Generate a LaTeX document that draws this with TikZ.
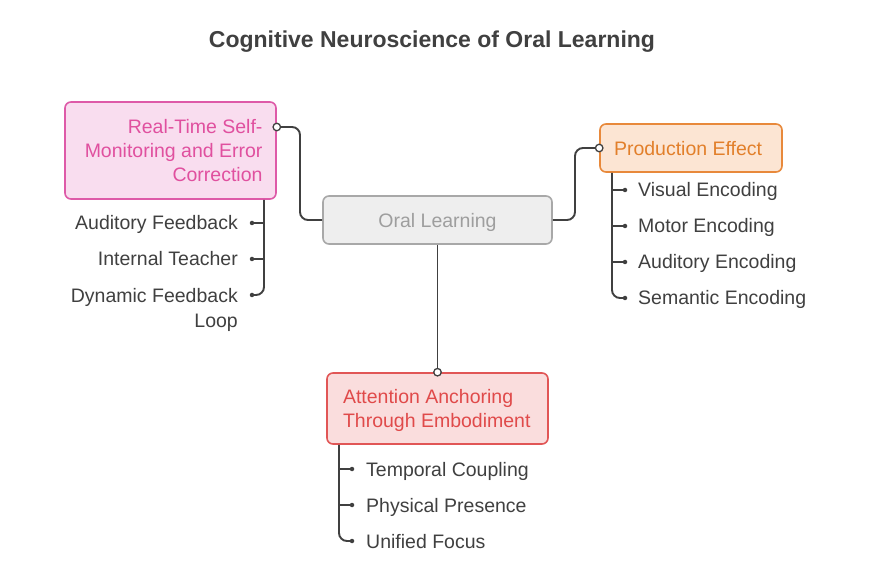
\documentclass[tikz,border=0pt]{standalone}
\usepackage{fontspec}
\setmainfont{Liberation Sans}
\definecolor{ink}{HTML}{404040}
\definecolor{pinkfill}{HTML}{F9DDEF}
\definecolor{pinkline}{HTML}{DE5AA8}
\definecolor{pinktext}{HTML}{E0509F}
\definecolor{orfill}{HTML}{FCE5D3}
\definecolor{orline}{HTML}{E8893B}
\definecolor{ortext}{HTML}{E27F2A}
\definecolor{redfill}{HTML}{FADDDD}
\definecolor{redline}{HTML}{E15656}
\definecolor{redtext}{HTML}{E04A4A}
\definecolor{grayfill}{HTML}{EEEEEE}
\definecolor{grayline}{HTML}{A8A8A8}
\definecolor{graytext}{HTML}{9E9E9E}
\begin{document}
\begin{tikzpicture}[x=1pt,y=-1pt,
  box/.style={draw, line width=1.6pt, rounded corners=6pt, inner sep=0pt, font=\fontsize{19.5}{24}\selectfont},
  item/.style={inner sep=0pt, text=ink, font=\fontsize{19.5}{25}\selectfont},
  link/.style={draw=ink, line width=1.9pt, rounded corners=8pt},
  dot/.style={circle, fill=ink, inner sep=0pt, minimum size=4.5pt},
  port/.style={circle, draw=ink, fill=white, line width=1.3pt, inner sep=0pt, minimum size=7.5pt}]
\useasboundingbox[fill=white] (0,0) rectangle (876,585);

% title
\node[inner sep=0pt, text=ink, font=\bfseries\fontsize{23}{27}\selectfont, anchor=base] (title) at (432,48) {Cognitive Neuroscience of Oral Learning};

% boxes
\node[box, fill=pinkfill, draw=pinkline, text=pinktext, minimum width=211pt, minimum height=97pt, text width=184pt, align=flush right, text depth=48pt] (lbox) at (170.5,150.5) {Real-Time Self-\\Monitoring and Error\\Correction};
\node[box, fill=grayfill, draw=grayline, text=graytext, minimum width=229pt, minimum height=48pt, text depth=0pt] (center) at (437.5,220) {Oral Learning};
\node[box, fill=orfill, draw=orline, text=ortext, minimum width=182pt, minimum height=48pt, text width=154pt, align=flush left, text depth=0pt] (rbox) at (691,148) {Production Effect};
\node[box, fill=redfill, draw=redline, text=redtext, minimum width=221pt, minimum height=71pt, text width=189pt, align=flush left, text depth=24pt] (bbox) at (437.5,408.5) {Attention Anchoring\\Through Embodiment};

% main connectors
\coordinate (lp) at (lbox.east |- 0,127);
\coordinate (rp) at (rbox.west);
\coordinate (bp) at (bbox.north);
\draw[link] (lp) -- (300,127) -- (300,220) -- (center.west);
\draw[link] (center.east) -- (575,220) -- (575,148) -- (rp);
\draw[link] (center.south) -- (bp);
\node[port] (lport) at (lp) {};
\node[port] (rport) at (rp) {};
\node[port] (bport) at (bp) {};

% left items
\coordinate (l1) at (252,223);
\coordinate (l2) at (252,259);
\coordinate (l3) at (252,295);
\draw[link] (lbox.south -| 264,0) -- (264,295) -- (l3);
\draw[link] (264,223) -- (l1);
\draw[link] (264,259) -- (l2);
\foreach \p in {l1,l2,l3} \node[dot] at (\p) {};
\node[item, anchor=base east] (lt1) at (238,230) {Auditory Feedback};
\node[item, anchor=base east] (lt2) at (238,266) {Internal Teacher};
\node[item, anchor=north east, align=flush right] (lt3) at (238,288) {Dynamic Feedback\\Loop};

% right items
\coordinate (r1) at (625,190);
\coordinate (r2) at (625,226);
\coordinate (r3) at (625,262);
\coordinate (r4) at (625,298);
\draw[link] (rbox.south -| 612,0) -- (612,298) -- (r4);
\draw[link] (612,190) -- (r1);
\draw[link] (612,226) -- (r2);
\draw[link] (612,262) -- (r3);
\foreach \p in {r1,r2,r3,r4} \node[dot] at (\p) {};
\node[item, anchor=base west] (rt1) at (638,197) {Visual Encoding};
\node[item, anchor=base west] (rt2) at (638,233) {Motor Encoding};
\node[item, anchor=base west] (rt3) at (638,269) {Auditory Encoding};
\node[item, anchor=base west] (rt4) at (638,305) {Semantic Encoding};

% bottom items
\coordinate (b1) at (352,469);
\coordinate (b2) at (352,505);
\coordinate (b3) at (352,541);
\draw[link] (bbox.south -| 339,0) -- (339,541) -- (b3);
\draw[link] (339,469) -- (b1);
\draw[link] (339,505) -- (b2);
\foreach \p in {b1,b2,b3} \node[dot] at (\p) {};
\node[item, anchor=base west] (bt1) at (366,476) {Temporal Coupling};
\node[item, anchor=base west] (bt2) at (366,512) {Physical Presence};
\node[item, anchor=base west] (bt3) at (366,548) {Unified Focus};
\end{tikzpicture}
\end{document}
